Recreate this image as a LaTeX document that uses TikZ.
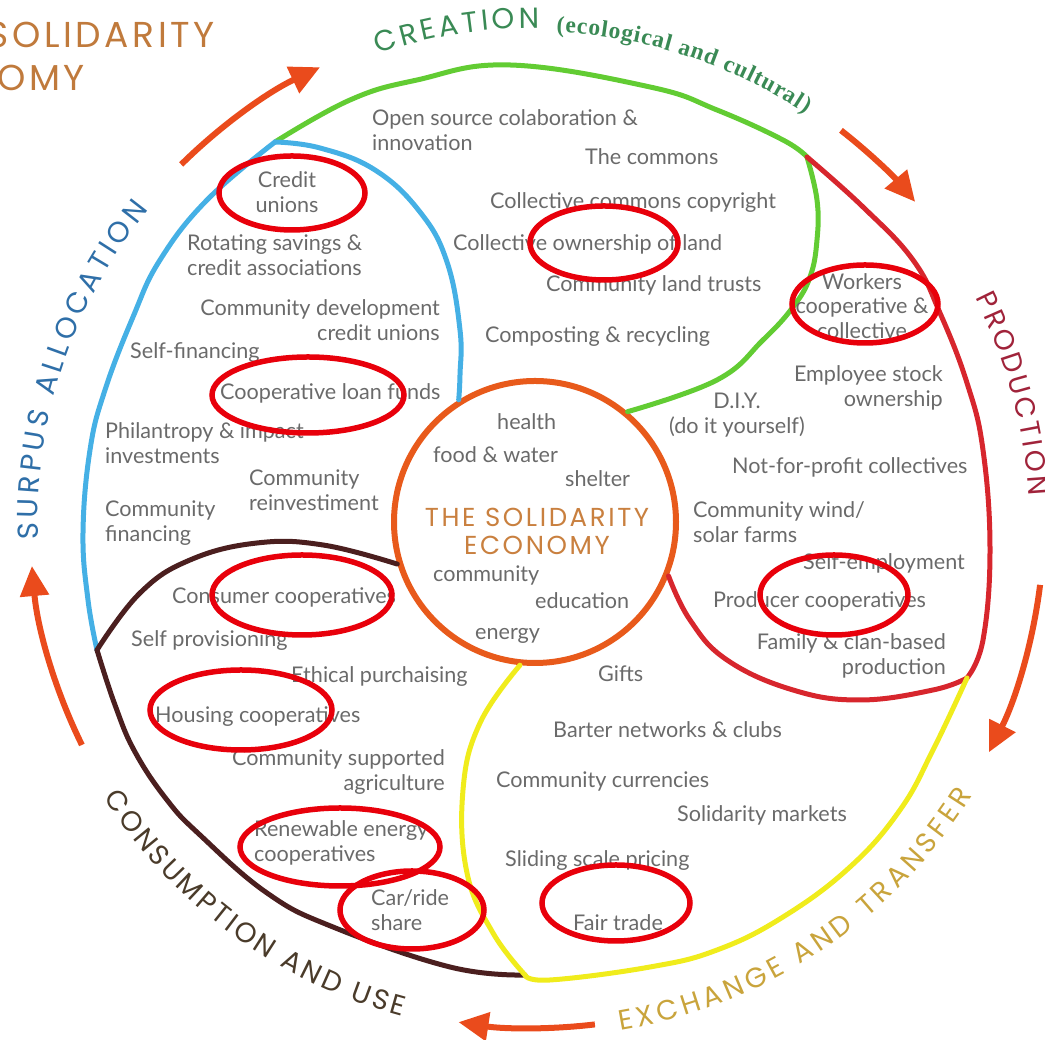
\documentclass[tikz,border=0pt]{standalone}
\usepackage{fontspec}
\setmainfont{Lato}
\newfontfamily\capFont{Poppins}
\newfontfamily\wideFont[LetterSpace=10]{Poppins}
\newfontfamily\serifFont{Liberation Serif}
\usetikzlibrary{arrows.meta, positioning, calc, decorations.text}
\definecolor{itemGray}{HTML}{6A6A6A}
\definecolor{coreOrange}{HTML}{E85A1B}
\definecolor{coreTitle}{HTML}{C9803F}
\definecolor{cornerBrown}{HTML}{C07A3C}
\definecolor{flowOrange}{HTML}{EA4B1C}
\definecolor{ringRed}{HTML}{E8000B}
\definecolor{creationLine}{HTML}{62CC33}
\definecolor{creationLabel}{HTML}{3A8A55}
\definecolor{surplusLine}{HTML}{45B0E5}
\definecolor{surplusLabel}{HTML}{2F6FA8}
\definecolor{productionLine}{HTML}{D7262D}
\definecolor{productionLabel}{HTML}{A0233A}
\definecolor{consumeLine}{HTML}{4B1F1F}
\definecolor{consumeLabel}{HTML}{4A3B2A}
\definecolor{exchangeLine}{HTML}{F0EC1C}
\definecolor{exchangeLabel}{HTML}{C9A43C}
\newcommand{\DrawCaption}[4]{
    \path[decorate, decoration={text along path, text align={fit to path}, text={#4}}]
        ($(ctr)+(#1:#3)$) arc[start angle=#1, end angle=#2, radius=#3];
}
\tikzset{
    % Regions
    regionLine/.style={line width=5pt, line cap=round, line join=round},
    coreCircle/.style={circle, draw=coreOrange, line width=6pt, minimum size=282pt, inner sep=0pt},
    % Items
    item/.style={font=\fontsize{21.6}{24.5}\selectfont, text=itemGray, inner sep=0pt},
    itemL/.style={item, anchor=west, align=left},
    itemR/.style={item, anchor=east, align=right},
    itemC/.style={item, align=center},
    ring/.style={draw=ringRed, line width=5.5pt},
    % Flow arrows
    flowArrow/.style={-{Triangle[length=30pt,width=28pt]}, line width=6pt, draw=flowOrange},
    % Titles
    cornerTitle/.style={font=\wideFont\fontsize{36}{40}\selectfont, text=cornerBrown, anchor=east, inner sep=0pt}
}

\begin{document}
\begin{tikzpicture}[x=1pt, y=1pt]
    \useasboundingbox (0,0) rectangle (1045,1040);
    \clip (0,0) rectangle (1045,1040);
    \coordinate (ctr) at (535,518);
    \coordinate (jGB) at (275,898);
    \coordinate (jGR) at (807,883);
    \coordinate (jRY) at (967,362);
    \coordinate (jYB) at (525,65);
    \coordinate (jBB) at (97,390);
    \node[coreCircle] (core) at (ctr) {};

    % region borders
    \draw[regionLine, draw=creationLine] plot[smooth, tension=0.7] coordinates {(jGB) (350,940) (417,960) (510,975) (650,953) (717,930) (783,900) (jGR)};
    \draw[regionLine, draw=creationLine] plot[smooth, tension=0.7] coordinates {(jGR) (817,840) (817,800) (810,763) (793,733) (763,700) (717,660) (core.50)};
    \draw[regionLine, draw=surplusLine] plot[smooth, tension=0.7] coordinates {(jGB) (320,892) (375,870) (420,828) (447,778) (460,710) (460,665) (core.122)};
    \draw[regionLine, draw=surplusLine] plot[smooth, tension=0.7] coordinates {(jGB) (207,840) (160,780) (133,723) (105,650) (90,590) (83,507) (88,440) (jBB)};
    \draw[regionLine, draw=productionLine] plot[smooth, tension=0.7] coordinates {(jGR) (863,833) (913,780) (940,727) (967,657) (983,590) (990,490) (983,400) (jRY)};
    \draw[regionLine, draw=productionLine] plot[smooth, tension=0.7] coordinates {(jRY) (933,350) (860,340) (793,350) (727,380) (690,420) (core.-22)};
    \draw[regionLine, draw=consumeLine] plot[smooth, tension=0.7] coordinates {(core.197) (323,495) (257,497) (190,480) (140,447) (jBB)};
    \draw[regionLine, draw=consumeLine] plot[smooth, tension=0.7] coordinates {(jBB) (115,335) (135,288) (167,240) (200,205) (267,147) (333,113) (450,73) (jYB)};
    \draw[regionLine, draw=exchangeLine] plot[smooth, tension=0.7] coordinates {(core.264) (480,317) (463,250) (467,167) (493,107) (jYB)};
    \draw[regionLine, draw=exchangeLine] plot[smooth, tension=0.7] coordinates {(jYB) (550,60) (650,73) (717,90) (783,123) (850,173) (900,230) (933,290) (jRY)};

    % flow arrows
    \draw[flowArrow] ($(ctr)+(134.7:503)$) arc[start angle=134.7, end angle=115.3, radius=503];
    \draw[flowArrow] ($(ctr)+(52:497)$) arc[start angle=52, end angle=40.1, radius=497];
    \draw[flowArrow] ($(ctr)+(-7.1:509)$) arc[start angle=-7.1, end angle=-26.9, radius=509];
    \draw[flowArrow] ($(ctr)+(-83.2:506)$) arc[start angle=-83.2, end angle=-98.7, radius=506];
    \draw[flowArrow] ($(ctr)+(206.2:505)$) arc[start angle=206.2, end angle=185, radius=505];

    % captions
    \DrawCaption{108.6}{89.5}{494}{|\capFont\fontsize{29}{29}\selectfont\color{creationLabel}|CREATION}
    \DrawCaption{87.5}{56.5}{490}{|\serifFont\bfseries\fontsize{23.5}{23.5}\selectfont\color{creationLabel}|(ecological and cultural)}
    \DrawCaption{182}{141}{497}{|\capFont\fontsize{29}{29}\selectfont\color{surplusLabel}|SURPUS ALLOCATION}
    \DrawCaption{27}{3}{494}{|\capFont\fontsize{28}{28}\selectfont\color{productionLabel}|PRODUCTION}
    \DrawCaption{212.6}{255}{512}{|\capFont\fontsize{28}{28}\selectfont\color{consumeLabel}|CONSUMPTION AND USE}
    \DrawCaption{279.5}{328}{516}{|\capFont\fontsize{28}{28}\selectfont\color{exchangeLabel}|EXCHANGE AND TRANSFER}
    \node[cornerTitle] (cornerTop) at (215,1005) {SOLIDARITY};
    \node[cornerTitle] (cornerBot) at (85,962) {OMY};

    % core
    \node[font=\wideFont\fontsize{26}{28}\selectfont, text=coreTitle, align=center] (title) at (537,509) {THE SOLIDARITY\\ECONOMY};
    \node[itemL] (health) at (497,618) {health};
    \node[itemL] (food) at (433,585) {food \& water};
    \node[itemL] (shelter) at (565,561) {shelter};
    \node[itemL] (community) at (433,465) {community};
    \node[itemL] (education) at (535,439) {education};
    \node[itemL] (energy) at (475,404) {energy};

    % creation
    \node[itemL] (openSource) at (372,910) {Open source colaboration \&\\innovation};
    \node[itemL] (commons) at (585,883) {The commons};
    \node[itemL] (copyright) at (490,837) {Collective commons copyright};
    \node[itemL] (landOwn) at (453,796) {Collective ownership of land};
    \node[itemL] (landTrust) at (546,755) {Community land trusts};
    \node[itemL] (compost) at (485,703) {Composting \& recycling};

    % surplus allocation
    \node[itemC] (creditUnion) at (287,848) {Credit\\unions};
    \node[itemL] (rosca) at (187,785) {Rotating savings \&\\credit associations};
    \node[itemR] (cdcu) at (440,720) {Community development\\credit unions};
    \node[itemL] (selfFin) at (130,687) {Self-financing};
    \node[itemL] (loanFund) at (220,647) {Cooperative loan funds};
    \node[itemL] (philan) at (105,597) {Philantropy \& impact\\investments};
    \node[itemL] (reinvest) at (249,550) {Community\\reinvestiment};
    \node[itemL] (commFin) at (105,517) {Community\\financing};

    % production
    \node[itemC] (workers) at (862,734) {Workers\\cooperative \&\\collective};
    \node[itemR] (stock) at (943,652) {Employee stock\\ownership};
    \node[itemC] (diy) at (737,625) {D.I.Y.\\(do it yourself)};
    \node[itemL] (notProfit) at (732,573) {Not-for-profit collectives};
    \node[itemL] (windSolar) at (693,518) {Community wind/\\solar farms};
    \node[itemL] (selfEmp) at (803,477) {Self-employment};
    \node[itemL] (producer) at (713,439) {Producer cooperatives};
    \node[itemR] (family) at (946,384) {Family \& clan-based\\production};

    % consumption and use
    \node[itemL] (consumer) at (172,443) {Consumer cooperatives};
    \node[itemL] (selfProv) at (131,399) {Self provisioning};
    \node[itemL] (ethical) at (291,363) {Ethical purchaising};
    \node[itemL] (housing) at (155,323) {Housing cooperatives};
    \node[itemR] (csa) at (445,268) {Community supported\\agriculture};
    \node[itemL] (renew) at (254,197) {Renewable energy\\cooperatives};
    \node[itemL] (carShare) at (371,130) {Car/ride\\share};

    % exchange and transfer
    \node[itemL] (gifts) at (598,366) {Gifts};
    \node[itemL] (barter) at (553,310) {Barter networks \& clubs};
    \node[itemL] (currency) at (496,259) {Community currencies};
    \node[itemL] (markets) at (677,225) {Solidarity markets};
    \node[itemL] (sliding) at (505,179) {Sliding scale pricing};
    \node[itemL] (fairTrade) at (573,117) {Fair trade};

    % highlighted examples
    \draw[ring] (292,847) ellipse [x radius=73, y radius=37];
    \draw[ring] (604,797) ellipse [x radius=74, y radius=37];
    \draw[ring] (865,736) ellipse [x radius=73, y radius=39];
    \draw[ring] (308,645) ellipse [x radius=96, y radius=38];
    \draw[ring] (302,445) ellipse [x radius=90, y radius=40];
    \draw[ring] (241,330) ellipse [x radius=91, y radius=40];
    \draw[ring] (340,193) ellipse [x radius=100, y radius=39];
    \draw[ring] (412,130) ellipse [x radius=72, y radius=39];
    \draw[ring] (616,137) ellipse [x radius=74, y radius=38];
    \draw[ring] (834,445) ellipse [x radius=74, y radius=40];
\end{tikzpicture}
\end{document}
